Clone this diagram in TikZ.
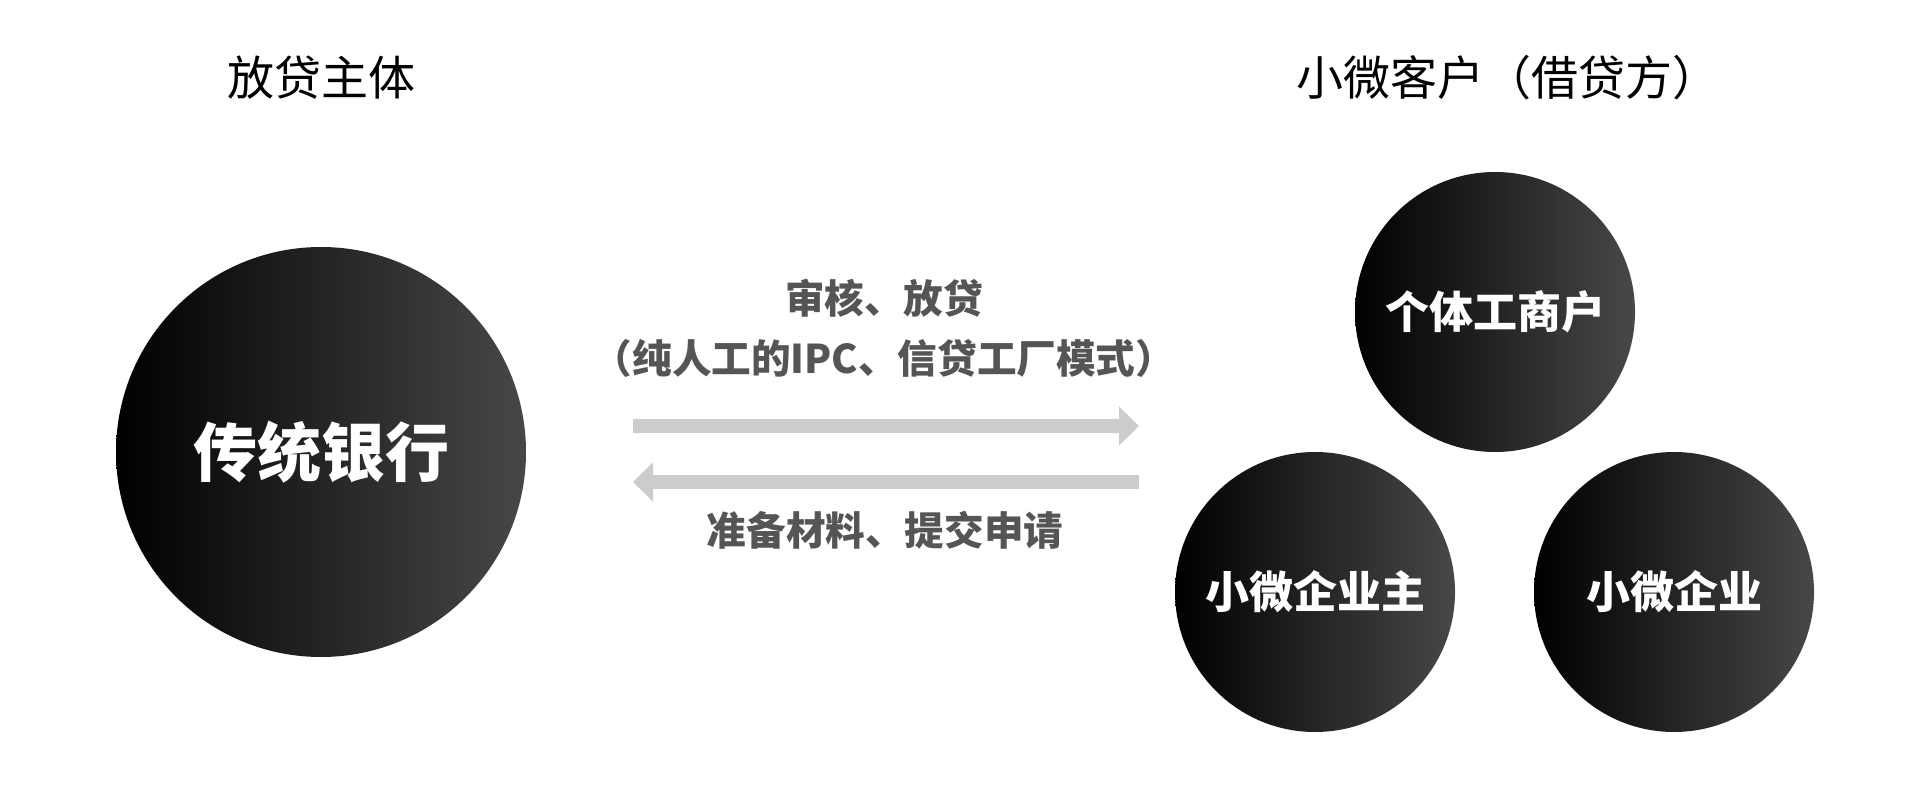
\documentclass[tikz,border=0pt]{standalone}
\usepackage{fontspec}
\setmainfont{Noto Sans CJK SC}
\usepackage{tikz}
\usetikzlibrary{arrows.meta,positioning,calc}
\definecolor{szurke}{HTML}{555555}
\definecolor{nyilszin}{HTML}{CCCCCC}
\tikzset{
  kor/.style={circle,inner sep=0pt,minimum size=140pt,left color=black,right color=black!72,
              text=white,font=\fontsize{22pt}{26pt}\selectfont\bfseries},
  nagykor/.style={kor,minimum size=205pt,font=\fontsize{32pt}{38pt}\selectfont\bfseries},
  cim/.style={font=\fontsize{23.5pt}{28pt}\selectfont,text=black},
  felirat/.style={font=\fontsize{19.8pt}{30pt}\selectfont\bfseries,text=szurke,align=center},
  nyil/.style={-{Triangle[width=19pt,length=10pt]},line width=7pt,draw=nyilszin},
}
\begin{document}
\begin{tikzpicture}[x=0.5pt,y=-0.5pt]
  \useasboundingbox (0,0) rectangle (1921,812);
  \node[cim] (bal) at (321,78) {放贷主体};
  \node[cim] (jobb) at (1508,78) {小微客户（借贷方）};
  \node[nagykor] (bank) at (321,452) {传统银行};
  \node[kor] (egyeni) at (1495,312) {个体工商户};
  \node[kor] (tulaj) at (1315,592) {小微企业主};
  \node[kor] (ceg) at (1674,592) {小微企业};
  \coordinate (a1) at (633,426); \coordinate (a2) at (1139,426);
  \coordinate (b1) at (1139,482); \coordinate (b2) at (633,482);
  \draw[nyil] (a1) -- (a2); \draw[nyil] (b1) -- (b2);
  \node[felirat] (fent) at (884,328) {审核、放贷\\（纯人工的IPC、信贷工厂模式）};
  \node[felirat] (lent) at (885,530) {准备材料、提交申请};
\end{tikzpicture}
\end{document}
